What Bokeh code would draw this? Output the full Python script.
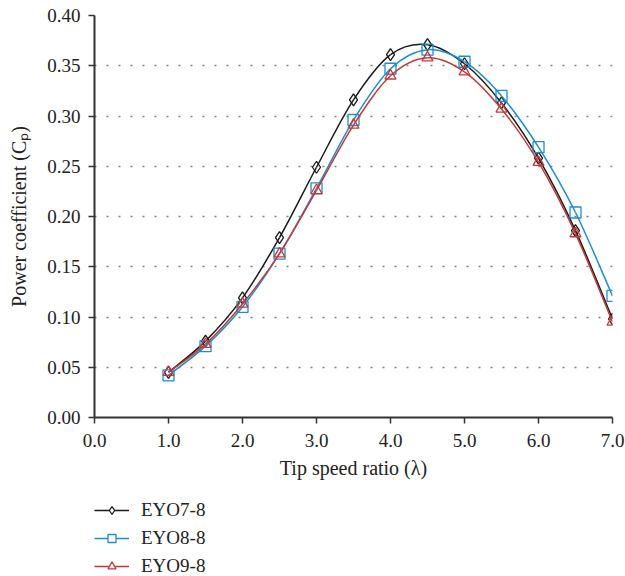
import numpy as np
from bokeh.plotting import figure
from bokeh.layouts import column
from bokeh.models import Legend, LegendItem, FixedTicker, PrintfTickFormatter, ColumnDataSource
from bokeh.embed import file_html
from bokeh.resources import INLINE

tsr = [1.0, 1.5, 2.0, 2.5, 3.0, 3.5, 4.0, 4.5, 5.0, 5.5, 6.0, 6.5, 7.0]
eyo7 = [0.045, 0.076, 0.119, 0.179, 0.249, 0.316, 0.361, 0.371, 0.352, 0.313, 0.258, 0.186, 0.098]
eyo8 = [0.042, 0.071, 0.110, 0.163, 0.228, 0.296, 0.347, 0.366, 0.354, 0.320, 0.269, 0.204, 0.121]
eyo9 = [0.045, 0.073, 0.113, 0.163, 0.226, 0.291, 0.340, 0.358, 0.344, 0.307, 0.254, 0.183, 0.095]
names = ["EYO7-8", "EYO8-8", "EYO9-8"]
colors = ["#1a1a1a", "#1b8fcf", "#c83737"]
markers = ["diamond", "square", "triangle"]
x_ticks = [0, 1, 2, 3, 4, 5, 6, 7]
y_ticks = [0.0, 0.05, 0.10, 0.15, 0.20, 0.25, 0.30, 0.35, 0.40]

FONT = "Liberation Serif"

p = figure(width=625, height=482, x_range=(0, 7), y_range=(0, 0.40),
           output_backend="svg", toolbar_location=None,
           min_border_left=94, min_border_right=13, min_border_top=15, min_border_bottom=65)
p.outline_line_color = None
p.background_fill_color = "white"

p.xgrid.visible = False
p.ygrid.grid_line_color = "#808080"
p.ygrid.grid_line_dash = "2 10"
p.ygrid.grid_line_width = 1.5

for ax in (p.xaxis[0], p.yaxis[0]):
    ax.axis_line_color = "#333333"
    ax.axis_line_width = 2
    ax.major_tick_line_color = "#333333"
    ax.major_tick_line_width = 1.5
    ax.major_tick_in = 0
    ax.major_tick_out = 6
    ax.minor_tick_line_color = None
    ax.major_label_text_font = FONT
    ax.major_label_text_font_size = "19px"
    ax.major_label_text_color = "#222222"
    ax.axis_label_text_font = FONT
    ax.axis_label_text_font_size = "20px"
    ax.axis_label_text_font_style = "normal"
    ax.axis_label_text_color = "#222222"

p.xaxis.ticker = FixedTicker(ticks=x_ticks)
p.yaxis.ticker = FixedTicker(ticks=y_ticks)
p.xaxis.formatter = PrintfTickFormatter(format="%.1f")
p.yaxis.formatter = PrintfTickFormatter(format="%.2f")
p.xaxis.axis_label = "Tip speed ratio (λ)"
p.yaxis.axis_label = "Power coefficient (Cₚ)"
p.xaxis.major_label_standoff = 10
p.xaxis.axis_label_standoff = 7
p.yaxis.major_label_standoff = 8
p.yaxis.axis_label_standoff = 14


def bezier_segments(xs, ys):
    x = np.asarray(xs, float)
    y = np.asarray(ys, float)
    n = len(x)
    xp = np.concatenate([[x[0]], x, [x[-1]]])
    yp = np.concatenate([[y[0]], y, [y[-1]]])
    d = dict(x0=[], y0=[], x1=[], y1=[], cx0=[], cy0=[], cx1=[], cy1=[])
    for i in range(n - 1):
        j = i + 1
        d["x0"].append(x[i]); d["y0"].append(y[i])
        d["x1"].append(x[i + 1]); d["y1"].append(y[i + 1])
        d["cx0"].append(x[i] + (xp[j + 1] - xp[j - 1]) / 6)
        d["cy0"].append(y[i] + (yp[j + 1] - yp[j - 1]) / 6)
        d["cx1"].append(x[i + 1] - (xp[j + 2] - xp[j]) / 6)
        d["cy1"].append(y[i + 1] - (yp[j + 2] - yp[j]) / 6)
    return d


# legend figure (its ranges lie away from the data, so only the legend shows)
pl = figure(width=625, height=94, x_range=(-20, -19), y_range=(-20, -19),
            output_backend="svg", toolbar_location=None,
            min_border_left=94, min_border_right=0, min_border_top=17, min_border_bottom=0)
pl.axis.visible = False
pl.grid.visible = False
pl.outline_line_color = None

items = []
for name, ys, c, m in zip(names, [eyo7, eyo8, eyo9], colors, markers):
    src = ColumnDataSource(bezier_segments(tsr, ys))
    p.bezier(x0="x0", y0="y0", x1="x1", y1="y1", cx0="cx0", cy0="cy0",
             cx1="cx1", cy1="cy1", source=src, line_color=c, line_width=1.5)
    sz = 12 if m == "diamond" else 11
    p.scatter(tsr, ys, marker=m, size=sz, line_color=c, fill_color=None, line_width=1.3)
    lr = pl.line(tsr, ys, line_color=c, line_width=1.5)
    ls = pl.scatter(tsr, ys, marker=m, size=sz - 1, line_color=c, fill_color="white", line_width=1.3)
    items.append(LegendItem(label=name, renderers=[lr, ls]))

legend = Legend(items=items, location="top_left", orientation="vertical")
legend.border_line_color = None
legend.background_fill_alpha = 0
legend.padding = 0
legend.margin = 0
legend.spacing = 6
legend.glyph_width = 35
legend.glyph_height = 20
legend.label_standoff = 12
legend.label_text_font = FONT
legend.label_text_font_size = "19px"
legend.label_text_color = "#222222"
pl.add_layout(legend, "center")

layout = column(p, pl, spacing=0)
open("out.html", "w").write(file_html(layout, INLINE))
